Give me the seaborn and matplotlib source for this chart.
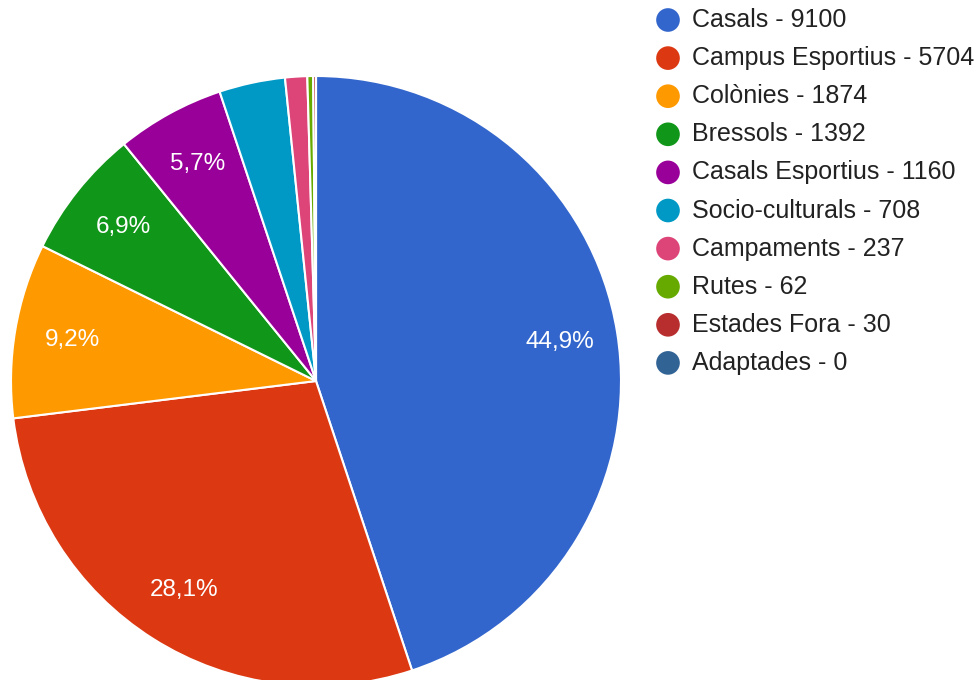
import matplotlib
matplotlib.use("Agg")
import matplotlib.pyplot as plt
import seaborn as sns

categories = ["Casals", "Campus Esportius", "Colònies", "Bressols", "Casals Esportius",
              "Socio-culturals", "Campaments", "Rutes", "Estades Fora", "Adaptades"]
counts = [9100, 5704, 1874, 1392, 1160, 708, 237, 62, 30, 0]
colors = ["#3366cc", "#dc3912", "#ff9900", "#109618", "#990099",
          "#0099c6", "#dd4477", "#66aa00", "#b82e2e", "#316395"]

sns.set_theme(style="white")
plt.rcParams['font.family'] = ['Liberation Sans', 'DejaVu Sans']
palette = sns.color_palette(colors)

fig = plt.figure(figsize=(9.8, 6.8), dpi=100)
W, H = 980, 680
cx, cy, r = 316, 381, 305
ax = fig.add_axes([(cx - r) / W, (H - cy - r) / H, 2 * r / W, 2 * r / H])


def fmt(p):
    # only the larger slices get a label
    return (f"{p:.1f}".replace(".", ",") + "%") if p > 5 else ""


wedges, texts, autotexts = ax.pie(
    counts, colors=palette, startangle=90, counterclock=False,
    autopct=fmt, pctdistance=0.81,
    wedgeprops=dict(edgecolor="white", linewidth=1.5),
    textprops=dict(color="white", fontsize=17.5),
)
ax.set_xlim(-1, 1)
ax.set_ylim(-1, 1)
ax.set_aspect("auto")
ax.axis("off")

# legend on the right
lax = fig.add_axes([0, 0, 1, 1])
lax.set_xlim(0, W)
lax.set_ylim(H, 0)
lax.axis("off")
for i, (name, val, col) in enumerate(zip(categories, counts, palette)):
    y = 20 + i * 38.1
    lax.scatter([668], [y], s=290, color=col, edgecolors="none")
    lax.text(692, y, f"{name} - {val}", fontsize=18, color="#222222",
             va="center", ha="left")

fig.savefig("out.png", dpi=100, facecolor="white")
